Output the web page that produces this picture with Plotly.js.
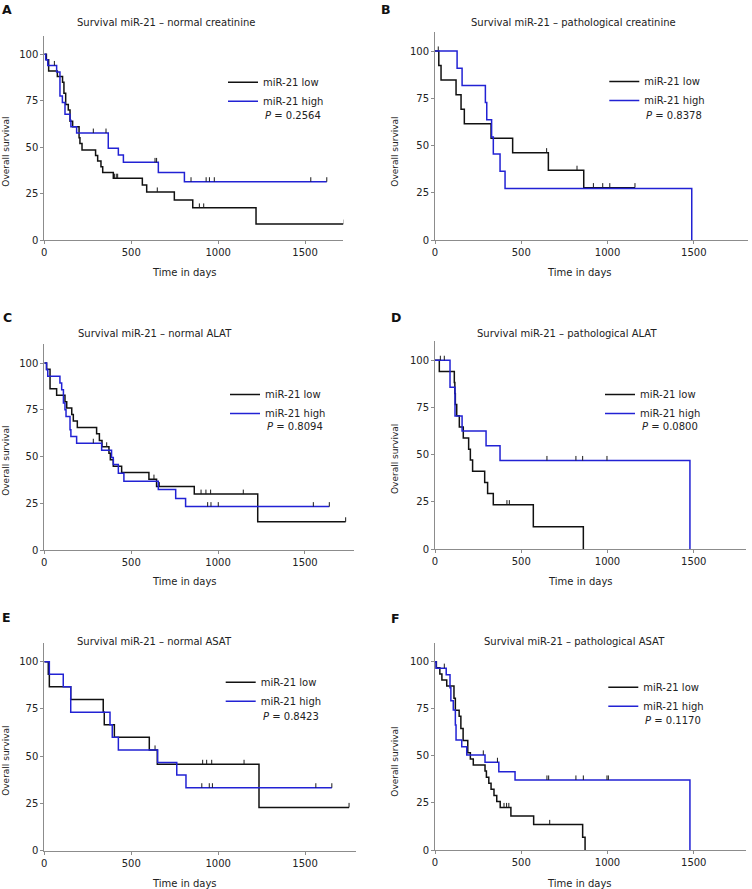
<!DOCTYPE html>
<html><head><meta charset="utf-8">
<script src="https://cdn.plot.ly/plotly-3.0.1.min.js"></script>
<style>html,body{margin:0;padding:0;background:#fff}#chart{width:752px;height:889px}</style>
</head><body><div id="chart"></div>
<script>
// ---------------- data ----------------
const panelTitles = ["Survival miR-21 \u2013 normal creatinine", "Survival miR-21 \u2013 pathological creatinine",
  "Survival miR-21 \u2013 normal ALAT", "Survival miR-21 \u2013 pathological ALAT",
  "Survival miR-21 \u2013 normal ASAT", "Survival miR-21 \u2013 pathological ASAT"];
const panelLetters = ["A", "B", "C", "D", "E", "F"];
const pValues = ["0.2564", "0.8378", "0.8094", "0.0800", "0.8423", "0.1170"];
const seriesNames = ["miR-21 low", "miR-21 high"];
const xTicks = [0, 500, 1000, 1500];
const yTicks = [0, 25, 50, 75, 100];

// A: normal creatinine
const aLowT = [12, 25, 75, 105, 113, 123, 138, 148, 163, 200, 205, 217, 295, 307, 326, 336, 397, 564, 589, 748, 854, 1218];
const aLowS = [97, 91, 88, 85, 79, 73, 70, 64, 61, 55, 52, 48.5, 45.5, 42.5, 39.4, 36.4, 33.3, 29.6, 25.9, 21.6, 17.3, 8.6];
const aLowCens = [403, 414, 422, 650, 892, 917, 1722];
const aHighT = [8, 20, 71, 90, 104, 119, 148, 153, 186, 368, 426, 455, 656, 806];
const aHighS = [97, 94, 90.5, 77.5, 74, 67.7, 64.5, 61, 57.6, 49.4, 45.7, 41.8, 36.4, 31.4];
const aHighCens = [58, 282, 355, 637, 646, 844, 931, 950, 978, 1533, 1625];

// B: pathological creatinine
const bLowT = [22, 35, 122, 151, 170, 325, 450, 657, 862];
const bLowS = [92.3, 84.6, 76.9, 69.2, 61.5, 53.8, 46.2, 36.9, 27.7];
const bLowCens = [19, 647, 823, 918, 972, 1013, 1159];
const bHighT = [128, 157, 292, 300, 328, 338, 377, 406, 1488];
const bHighS = [90.9, 81.8, 72.7, 63.6, 54.5, 45.5, 36.4, 27.3, 0];
const bHighCens = [];

// C: normal ALAT
const cLowT = [13, 33, 71, 119, 129, 158, 167, 190, 301, 317, 332, 372, 380, 397, 445, 602, 646, 863, 1228];
const cLowS = [96.6, 86.2, 82.8, 79.3, 75.9, 72.4, 69.0, 65.5, 62.1, 58.6, 55.2, 51.7, 48.3, 44.8, 41.4, 37.9, 33.9, 29.9, 15.1];
const cLowCens = [359, 631, 662, 902, 930, 957, 1145, 1734];
const cHighT = [13, 20, 90, 100, 110, 119, 125, 148, 153, 186, 330, 387, 397, 426, 458, 656, 756, 813];
const cHighS = [96.4, 92.9, 89.3, 85.7, 78.6, 75.0, 71.4, 64.3, 60.7, 57.1, 53.3, 49.5, 45.7, 41.0, 36.8, 32.4, 27.6, 23.2];
const cHighCens = [282, 940, 959, 1001, 1548, 1640];

// D: pathological ALAT
const dLowT = [25, 112, 115, 118, 126, 141, 164, 195, 205, 218, 288, 305, 338, 570, 860];
const dLowS = [94.1, 88.2, 82.4, 76.5, 70.6, 64.7, 58.8, 52.9, 47.1, 41.2, 35.3, 29.4, 23.5, 11.8, 0];
const dLowCens = [417, 431];
const dHighT = [87, 116, 157, 296, 377, 1478];
const dHighS = [85.7, 70.5, 62.5, 54.7, 46.9, 0];
const dHighCens = [31, 54, 649, 817, 856, 997];

// E: normal ASAT
const eLowT = [23, 29, 152, 339, 345, 403, 604, 650, 1235];
const eLowS = [93.3, 86.7, 80, 73.3, 66.7, 60, 53.3, 45.7, 22.9];
const eLowCens = [637, 911, 934, 963, 1149, 1753];
const eHighT = [29, 109, 152, 378, 391, 426, 652, 762, 815];
const eHighS = [93.3, 86.7, 73.3, 66.7, 60, 53.3, 46.7, 40, 33.3];
const eHighCens = [906, 949, 967, 1562, 1654];

// F: pathological ASAT
const fLowT = [8, 28, 40, 68, 110, 118, 140, 150, 163, 190, 205, 222, 290, 298, 312, 325, 342, 358, 378, 440, 572, 856, 870];
const fLowS = [96.8, 93.5, 90.3, 87.1, 80.6, 74.2, 71.0, 64.5, 58.1, 51.6, 48.4, 45.2, 41.9, 38.7, 35.5, 32.3, 29.0, 25.8, 22.6, 18.1, 13.6, 6.8, 0];
const fLowCens = [400, 415, 428, 665];
const fHighT = [6, 65, 87, 92, 106, 118, 122, 155, 184, 290, 370, 464, 1478];
const fHighS = [96.6, 93.1, 86.2, 79.3, 74.3, 66.4, 58.4, 54.9, 50.5, 46.6, 41.6, 37.2, 0];
const fHighCens = [54, 280, 362, 649, 659, 817, 860, 997, 1005];

// ---------------- layout geometry (pixels) ----------------
const W = 752, H = 889;
const FONT = "DejaVu Sans";
const LOW_COLOR = "#111111", HIGH_COLOR = "#2222d4", CENS_COLOR = "#1a1a1a", AXIS_COLOR = "#8c8c8c", TEXT_COLOR = "#222222";

const series = [
  [[aLowT, aLowS, aLowCens], [aHighT, aHighS, aHighCens]],
  [[bLowT, bLowS, bLowCens], [bHighT, bHighS, bHighCens]],
  [[cLowT, cLowS, cLowCens], [cHighT, cHighS, cHighCens]],
  [[dLowT, dLowS, dLowCens], [dHighT, dHighS, dHighCens]],
  [[eLowT, eLowS, eLowCens], [eHighT, eHighS, eHighCens]],
  [[fLowT, fLowS, fLowCens], [fHighT, fHighS, fHighCens]]
];

const geo = [
  {l: 44.3, r: 343.3, xmax: 1720, t: 35.7, b: 240, letter: [7, 9.5], title: [166, 22.7], yt: [6, 151.7], xt: [184, 272.7], leg: [263, 81.7], p: [263, 115.7]},
  {l: 435, r: 748, xmax: 1814, t: 32.1, b: 240, letter: [385.5, 9], title: [573.5, 22.7], yt: [395, 151.7], xt: [579.5, 272.7], leg: [644.3, 81], p: [644.3, 115.3]},
  {l: 44.3, r: 354, xmax: 1782, t: 344.3, b: 550, letter: [7.5, 317.5], title: [154.5, 333.3], yt: [6, 460.8], xt: [184, 581.5], leg: [265, 394], p: [265, 426.7]},
  {l: 435, r: 746, xmax: 1803, t: 341.4, b: 549, letter: [396.5, 317.2], title: [566.5, 333.3], yt: [395, 459], xt: [580, 581.5], leg: [640, 394], p: [640, 426.7]},
  {l: 44.3, r: 356, xmax: 1793, t: 642.8, b: 850.7, letter: [6.7, 617.2], title: [154.5, 641.7], yt: [6, 760.8], xt: [184, 883], leg: [260.7, 681.7], p: [260.7, 716]},
  {l: 435, r: 746, xmax: 1803, t: 642.9, b: 850, letter: [396, 618.5], title: [574.5, 641.7], yt: [395, 761.7], xt: [579.5, 883], leg: [643.3, 686.7], p: [643.3, 720]}
];

function survAt(T, S, t) {
  let v = 100;
  for (let i = 0; i < T.length; i++) { if (T[i] <= t) v = S[i]; }
  return v;
}

const traces = [];
const layout = {
  width: W, height: H, margin: {l: 0, r: 0, t: 0, b: 0},
  paper_bgcolor: "#fff", plot_bgcolor: "#fff",
  font: {family: FONT, size: 10, color: TEXT_COLOR},
  showlegend: true, annotations: []
};

function ann(text, x, y, opts) {
  layout.annotations.push(Object.assign({
    text: text, xref: "paper", yref: "paper", x: x / W, y: 1 - y / H,
    xanchor: "center", yanchor: "middle", showarrow: false,
    font: {family: FONT, size: 10, color: TEXT_COLOR}
  }, opts || {}));
}

geo.forEach((g, i) => {
  const n = i + 1;
  const xa = "x" + (n === 1 ? "" : n), ya = "y" + (n === 1 ? "" : n);
  const legKey = n === 1 ? "legend" : "legend" + n;
  const colors = [LOW_COLOR, HIGH_COLOR];
  series[i].forEach((sd, k) => {
    const [T, S, C] = sd;
    const xs = [0].concat(T), ys = [100].concat(S);
    const lastC = C.length ? Math.max.apply(null, C) : 0;
    if (lastC > xs[xs.length - 1]) { xs.push(lastC); ys.push(ys[ys.length - 1]); }
    traces.push({
      type: "scatter", mode: "lines", x: xs, y: ys, xaxis: xa, yaxis: ya,
      line: {shape: "hv", color: colors[k], width: 1.5},
      name: seriesNames[k], legend: legKey, hoverinfo: "x+y"
    });
    if (C.length) {
      traces.push({
        type: "scatter", mode: "markers", x: C, y: C.map(t => survAt(T, S, t)),
        xaxis: xa, yaxis: ya, showlegend: false, hoverinfo: "skip",
        marker: {size: 1, color: "rgba(0,0,0,0)"},
        error_y: {type: "data", symmetric: false, array: C.map(() => 2.4), arrayminus: C.map(() => 0),
                  width: 0, thickness: 1, color: CENS_COLOR}
      });
    }
  });
  const axBase = {
    showline: true, linecolor: AXIS_COLOR, linewidth: 1, ticks: "outside", ticklen: 3, tickcolor: AXIS_COLOR,
    showgrid: false, zeroline: false, tickfont: {family: FONT, size: 10, color: TEXT_COLOR}, fixedrange: true
  };
  layout["xaxis" + (n === 1 ? "" : n)] = Object.assign({}, axBase, {
    domain: [g.l / W, g.r / W], range: [0, g.xmax], tickvals: xTicks, ticktext: xTicks.map(String),
    anchor: ya
  });
  layout["yaxis" + (n === 1 ? "" : n)] = Object.assign({}, axBase, {
    domain: [1 - g.b / H, 1 - g.t / H], range: [0, 110], tickvals: yTicks, ticktext: yTicks.map(String),
    anchor: xa
  });
  layout[legKey] = {
    x: (g.leg[0] - 40) / W, y: 1 - (g.leg[1] - 14) / H, xanchor: "left", yanchor: "top",
    bgcolor: "rgba(0,0,0,0)", borderwidth: 0, itemwidth: 30, tracegroupgap: 0,
    font: {family: FONT, size: 10, color: TEXT_COLOR}
  };
  ann("<b>" + panelLetters[i] + "</b>", g.letter[0], g.letter[1], {font: {family: FONT, size: 12.5, color: "#111"}});
  ann(panelTitles[i], g.title[0], g.title[1]);
  ann("Overall survival", g.yt[0], g.yt[1], {textangle: -90, font: {family: FONT, size: 9, color: TEXT_COLOR}});
  ann("Time in days", g.xt[0], g.xt[1]);
  ann("<i>P</i> = " + pValues[i], g.p[0], g.p[1], {xanchor: "left"});
});

Plotly.newPlot("chart", traces, layout, {displayModeBar: false, staticPlot: true});
</script>
</body></html>
